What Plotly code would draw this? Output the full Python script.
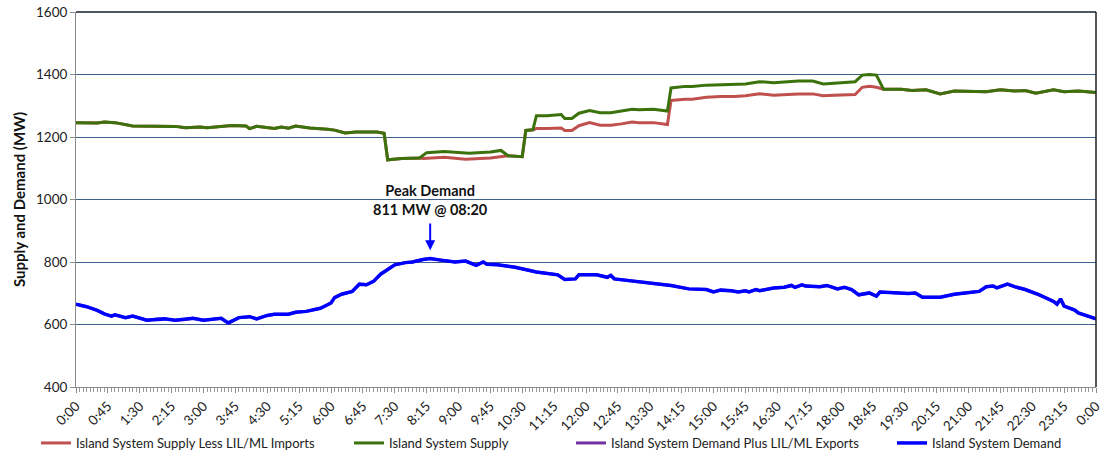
import plotly.graph_objects as go

# ---- data (time in minutes after midnight, values in MW) ----
demand_t = [0, 15, 30, 40, 50, 55, 70, 80, 100, 115, 125, 140, 155, 165, 180, 195, 205, 215, 220, 230,
            245, 255, 270, 280, 300, 310, 325, 335, 345, 355, 360, 365, 375, 390, 395, 400, 410, 420, 430,
            440, 450, 465, 475, 490, 500, 515, 535, 550, 565, 575, 580, 595, 620, 650, 680, 690, 705, 710,
            735, 750, 755, 760, 790, 820, 840, 865, 890, 900, 910, 925, 935, 945, 950, 960, 965, 985, 1000,
            1010, 1015, 1025, 1030, 1050, 1060, 1075, 1085, 1095, 1105, 1120, 1130, 1135, 1155, 1175, 1185,
            1195, 1220, 1240, 1255, 1275, 1285, 1295, 1300, 1315, 1325, 1340, 1360, 1380, 1385, 1390, 1395,
            1410, 1415, 1425, 1440]
demand_v = [665, 657, 645, 634, 627, 631, 622, 627, 614, 618, 618, 614, 616, 620, 614, 618, 620, 605, 610, 622,
            625, 618, 629, 633, 633, 639, 642, 648, 652, 663, 669, 686, 697, 706, 719, 729, 727, 738, 761,
            776, 791, 798, 800, 808, 811, 806, 800, 803, 789, 800, 793, 791, 783, 768, 759, 744, 746, 759,
            759, 751, 757, 746, 738, 729, 725, 714, 712, 704, 710, 708, 704, 708, 704, 712, 708, 717, 719,
            725, 719, 727, 723, 721, 725, 714, 719, 712, 695, 701, 691, 704, 701, 699, 701,
            687, 687, 697, 701, 706, 721, 723, 717, 729, 721, 712, 695, 674, 665, 682, 659,
            646, 637, 629, 618]

supply_t = [0, 30, 40, 55, 80, 110, 140, 155, 175, 185, 205, 220, 240, 245, 255, 280, 290, 300, 310, 330,
            355, 365, 380, 395, 425, 435, 440, 460, 485, 495, 520, 545, 555, 585, 600, 610, 630, 635, 645,
            650, 665, 685, 690, 700, 710, 725, 740, 755, 770, 785, 795, 815, 835, 840, 860, 870, 890, 910,
            930, 945, 965, 985, 1005, 1020, 1040, 1055, 1070, 1090, 1100, 1110, 1120, 1130, 1140, 1165,
            1180, 1200, 1220, 1240, 1265, 1285, 1305, 1325, 1340, 1355, 1380, 1395, 1415, 1440]
supply_v = [1246, 1245, 1248, 1246, 1235, 1235, 1234, 1230, 1232, 1230, 1235, 1237, 1235, 1227, 1234, 1227,
            1232, 1228, 1235, 1229, 1225, 1222, 1213, 1216, 1216, 1212, 1127, 1131, 1133, 1150, 1154, 1150,
            1148, 1152, 1157, 1140, 1137, 1221, 1223, 1268, 1268, 1272, 1259, 1259, 1276, 1285, 1278, 1278,
            1283, 1289, 1287, 1289, 1283, 1357, 1362, 1362, 1366, 1368, 1368, 1370, 1377, 1374, 1377, 1379,
            1379, 1370, 1372, 1374, 1377, 1398, 1400, 1398, 1353, 1353, 1349, 1351, 1338, 1347, 1345, 1345,
            1351, 1347, 1349, 1340, 1351, 1345, 1347, 1342]

less_imports_t = [0, 30, 40, 55, 80, 110, 140, 155, 175, 185, 205, 220, 240, 245, 255, 280, 290, 300, 310, 330,
                  355, 365, 380, 395, 425, 435, 440, 460, 485, 490, 520, 550, 585, 600, 610, 630, 635, 645,
                  650, 665, 685, 690, 700, 710, 725, 740, 755, 770, 785, 795, 815, 835, 840, 860, 870, 890, 910,
                  930, 945, 965, 985, 1005, 1020, 1040, 1055, 1070, 1090, 1100, 1110, 1120, 1130, 1140, 1165,
                  1180, 1200, 1220, 1240, 1265, 1285, 1305, 1325, 1340, 1355, 1380, 1395, 1415, 1440]
less_imports_v = [1246, 1245, 1248, 1246, 1235, 1235, 1234, 1230, 1232, 1230, 1235, 1237, 1235, 1227, 1234, 1227,
                  1232, 1228, 1235, 1229, 1225, 1222, 1213, 1216, 1216, 1212, 1127, 1131, 1133, 1131, 1135, 1129,
                  1133, 1137, 1140, 1137, 1221, 1223, 1227, 1227, 1229, 1221, 1221, 1236, 1246, 1238, 1238,
                  1242, 1248, 1246, 1246, 1240, 1317, 1321, 1321, 1327, 1330, 1330, 1332, 1338, 1334, 1336, 1338,
                  1338, 1332, 1334, 1336, 1336, 1359, 1362, 1359, 1353, 1353, 1349, 1351, 1338, 1347, 1345, 1345,
                  1351, 1347, 1349, 1340, 1351, 1345, 1347, 1342]

tick_minutes = list(range(0, 1441, 45))
tick_labels = ["0:00", "0:45", "1:30", "2:15", "3:00", "3:45", "4:30", "5:15", "6:00", "6:45", "7:30",
               "8:15", "9:00", "9:45", "10:30", "11:15", "12:00", "12:45", "13:30", "14:15", "15:00",
               "15:45", "16:30", "17:15", "18:00", "18:45", "19:30", "20:15", "21:00", "21:45", "22:30",
               "23:15", "0:00"]

peak_time = 500
peak_value = 811

FONT = "Lato"
W, H = 1101, 455
L, R, T, B = 76, 5, 12, 68

fig = go.Figure()
fig.add_trace(go.Scatter(x=less_imports_t, y=less_imports_v, mode="lines",
                         name="Island System Supply Less LIL/ML Imports",
                         line=dict(color="#C0504D", width=3), legend="legend"))
fig.add_trace(go.Scatter(x=supply_t, y=supply_v, mode="lines", name="Island System Supply",
                         line=dict(color="#3B720B", width=3), legend="legend2"))
fig.add_trace(go.Scatter(x=demand_t, y=demand_v, mode="lines",
                         name="Island System Demand Plus LIL/ML Exports",
                         line=dict(color="#7030A0", width=3), legend="legend3"))
fig.add_trace(go.Scatter(x=demand_t, y=demand_v, mode="lines", name="Island System Demand",
                         line=dict(color="#0000FF", width=3.5), legend="legend4"))

leg_common = dict(orientation="h", yanchor="middle", xanchor="left",
                  xref="container", yref="container", y=(H - 443) / H,
                  font=dict(family=FONT, size=13, color="#222"), bgcolor="rgba(0,0,0,0)",
                  itemwidth=30, tracegroupgap=0)
layout_legends = {}
for key, lx in [("legend", 36), ("legend2", 349), ("legend3", 571), ("legend4", 892)]:
    d = dict(leg_common)
    d["x"] = lx / W
    layout_legends[key] = d

fig.update_layout(
    width=W, height=H,
    margin=dict(l=L, r=R, t=T, b=B, autoexpand=False),
    paper_bgcolor="white", plot_bgcolor="white",
    font=dict(family=FONT, size=13, color="#222"),
    showlegend=True,
    **layout_legends,
    xaxis=dict(range=[0, 1440], tickmode="array", tickvals=tick_minutes, ticktext=tick_labels,
               tickangle=-45, showgrid=False, zeroline=False, automargin=False,
               ticklabeloverflow="allow",
               showline=True, linecolor="#8C8C8C", linewidth=1,
               ticks="outside", ticklen=5, tickcolor="#8C8C8C",
               minor=dict(tickmode="linear", tick0=0, dtick=5, ticks="outside", ticklen=4,
                          tickcolor="#9A9A9A", showgrid=False),
               tickfont=dict(family=FONT, size=13.5, color="#222")),
    yaxis=dict(range=[400, 1600], dtick=200, tick0=400, showgrid=True, gridcolor="#3F5F8C", gridwidth=1,
               zeroline=False, showline=True, linecolor="#8C8C8C", linewidth=1, automargin=False,
               ticks="outside", ticklen=5, tickcolor="#8C8C8C",
               tickfont=dict(family=FONT, size=13.5, color="#222"),
               title=dict(text="<b>Supply and Demand (MW)</b>", font=dict(family=FONT, size=15, color="#111"),
                          standoff=6)),
    shapes=[
        dict(type="line", xref="paper", yref="paper", x0=0, x1=1, y0=1, y1=1,
             line=dict(color="#4E5660", width=2)),
        dict(type="line", xref="paper", yref="paper", x0=1, x1=1, y0=0, y1=1,
             line=dict(color="#1E1E1E", width=1.5)),
    ],
    annotations=[
        dict(x=peak_time, y=peak_value, xref="x", yref="y",
             text="<b>Peak Demand</b><br><b>811 MW @ 08:20</b>", showarrow=False,
             yshift=59, font=dict(family=FONT, size=14.5, color="#111"), align="center"),
        dict(x=peak_time, y=838, xref="x", yref="y", ax=peak_time, ay=928, axref="x", ayref="y",
             text="", showarrow=True, arrowhead=2, arrowsize=1, arrowwidth=2, arrowcolor="#0000FF"),
    ],
)

fig.write_html("out.html", config={"displayModeBar": False},
               post_script="document.body.style.margin='0';document.body.style.padding='0';"
                           "document.body.style.overflow='hidden';")
